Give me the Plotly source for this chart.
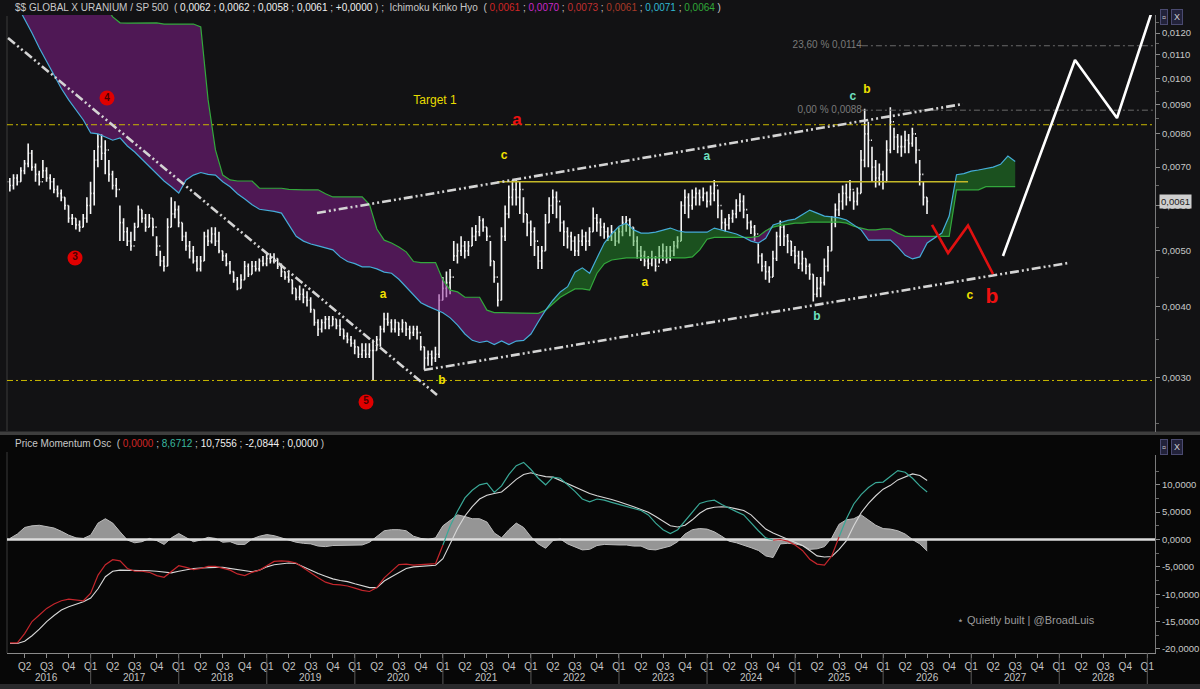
import numpy as np
import plotly.graph_objects as go

W, H = 1200, 689

# ---------------- DATA ----------------
# Semi-monthly OHLC bars of GLOBAL X URANIUM / S&P 500, values in units of 1e-4
bar_start = 2016.04
bar_step = 1 / 24
close_e4 = [
    66, 65, 67, 66, 69, 71, 74, 70, 68, 66, 69, 67,
    66, 64, 63, 62, 60, 57, 57, 55.5, 55, 57, 60, 63,
    72, 76, 74, 75, 68, 65, 64, 56, 54, 52, 51, 55,
    59, 57, 55, 57, 55, 51, 48, 47, 55, 58, 59, 56,
    53, 51, 50, 48, 46.5, 48, 53, 52, 53.5, 52, 50, 49,
    47.5, 46, 44.5, 43, 44.5, 47, 45.5, 47, 46.5, 48, 47.5, 48.5,
    48, 48.5, 47, 46, 45, 44.5, 43, 41.5, 42, 41.5, 41, 39.5,
    37.5, 36.5, 37.5, 38, 37, 38, 37, 36.5, 35.5, 35, 34.5, 34,
    33, 33.5, 33, 33.5, 33.5, 35, 36.5, 38, 37.5, 36.5, 37.5, 36.5,
    37.5, 36.5, 36, 36.5, 36, 34, 32.5, 33, 32.5, 33, 41, 43,
    44, 45, 49, 50, 51, 50, 51, 53, 54, 56.5, 55, 53,
    48, 45, 41, 53, 58, 62, 64, 62, 64, 58, 56, 54,
    52, 48, 50, 56, 60, 62, 61, 56, 54, 53, 52, 50,
    52, 53, 52, 54, 57, 56, 55, 54, 53, 54, 52, 54,
    56, 56.5, 55, 52, 50, 49, 48, 47.5, 48.5, 47, 49, 50,
    48.5, 50, 51, 52, 60, 62, 60, 62, 63, 62, 63, 61,
    63, 65, 60, 56, 55.5, 57, 58, 60, 61, 59, 56, 55,
    53.5, 49, 47, 46, 45, 48.5, 53, 55, 53, 52, 50, 49,
    47.5, 48.5, 47, 45.5, 42, 43, 44, 47, 50, 56, 59, 61,
    63, 62, 64, 61, 63, 72, 80, 78, 70, 67, 68, 66,
    75, 84, 79, 76, 76, 78, 77, 80, 75, 68, 62, 61,
]
high_e4 = [
    68, 67, 68, 68, 70, 72, 77, 75, 71, 69, 72, 70,
    68, 67, 65, 64, 62, 60, 58, 57, 56.5, 58, 62, 66,
    75, 80, 80, 78, 72, 69, 67, 60, 57, 55, 54, 56,
    60, 59, 58, 58, 57, 53, 50, 49, 57, 62, 61, 60,
    56, 54, 52, 51, 49, 49, 54, 54.5, 55, 55, 54, 50,
    49.5, 48, 46, 45, 45.5, 48, 47.5, 48, 48, 48.5, 49, 49.5,
    49.5, 49.5, 48.5, 47.5, 46, 46, 44.5, 43, 43.5, 43, 42.5, 41.5,
    39.5, 38, 38, 38.5, 38.5, 38.5, 38, 38, 36.5, 36, 35.5, 35,
    34, 34.5, 34.5, 34.5, 35, 35.5, 37, 39, 39, 38, 38, 37.5,
    38, 37.5, 37, 37, 37, 35.5, 34, 33.5, 33.5, 34, 42, 45,
    46, 46.5, 52, 51.5, 53, 52, 52, 55, 55.5, 57.5, 57, 55,
    52, 48, 44, 55, 60, 65, 66.5, 66.5, 66, 62, 58, 56.5,
    55, 51, 51, 58, 62, 64, 63.5, 60, 56.5, 55, 54, 53,
    53.5, 54.5, 54, 55, 59.5, 58, 57, 56, 55, 55.5, 54, 55,
    57.5, 57.5, 57, 55, 53, 51, 50, 49, 50, 49, 51, 51.5,
    51, 51, 52, 53, 61, 64, 63, 64, 64.5, 64, 64.5, 63.5,
    65, 66.5, 64, 59, 57, 58, 59, 61.5, 63, 62.5, 58, 56.5,
    55.5, 51.5, 49.5, 48, 47, 50, 54, 56.5, 55.5, 53.5, 52, 51,
    50, 50, 48.5, 47.5, 45.5, 45, 45, 48.5, 51, 57.5, 60.5, 63,
    65, 65.5, 66.5, 63.5, 64.5, 75, 88.5, 84, 76, 72, 71, 69,
    78, 89, 82, 80, 79.5, 81, 80, 82, 79, 72, 66, 62,
]
low_e4 = [
    64, 63.5, 64, 65, 66, 68, 70, 69, 66, 65, 67, 66,
    64, 63, 62, 61, 59, 56, 55.5, 54.5, 54, 55, 56, 58,
    60, 70, 72, 68, 66, 64, 62, 52, 52, 51, 50, 52,
    55, 56, 54, 55, 53, 49, 47, 46, 47, 55, 57, 55,
    52, 50, 48.5, 47.5, 46, 46, 48, 51, 51.5, 51, 49.5, 48,
    47, 45.5, 44, 42.7, 43, 44.5, 45, 45.5, 46, 46, 47, 47,
    47.5, 47.5, 46.5, 45, 44.5, 44, 42, 41, 41, 40.5, 40, 39,
    37, 35.5, 36, 36.5, 36.5, 37, 36.5, 35.5, 35, 34.5, 34, 33,
    32.5, 32.5, 32.5, 32.5, 29.7, 33.5, 34, 36, 37, 36, 36, 35.5,
    36, 35.5, 35, 35.5, 35, 33.5, 31, 31.5, 31.5, 32, 32.5, 41,
    41.5, 42, 48, 47.5, 49, 48.5, 49, 51, 52, 53, 54, 52,
    47, 44, 40, 41, 52, 57, 60, 60, 58, 56, 53, 51,
    49, 46.5, 46.5, 50, 56, 58, 57, 54, 51, 50.5, 50, 49,
    49, 51, 50, 51, 54, 54, 53, 52.5, 52, 52, 51, 51.5,
    53, 54, 53, 51, 48.5, 48, 47, 46.5, 47, 46, 47.5, 48,
    47.5, 48, 49, 50.5, 52, 58, 57, 59, 60, 60, 61, 59.5,
    60, 61, 57, 54.5, 54, 54.5, 56, 57, 58.5, 57, 54.5, 53.5,
    52, 47.5, 46, 44.5, 44, 45, 48, 51, 51, 49.5, 49, 47.5,
    46.5, 46, 45.5, 44.5, 40.8, 41.5, 41.5, 43.5, 46, 50, 55, 57.5,
    59, 60, 61, 59, 60, 63, 70, 70, 66, 64.5, 65, 64,
    66, 74, 75, 74, 73, 74, 74, 76, 71, 65, 60, 58,
]

# Ichimoku cloud spans (monthly, already shifted forward), units of 1e-4
cloud_start = 2016.0
cloud_step = 1 / 12
span_a_e4 = [
    150, 140, 134, 127, 120, 113, 107, 101, 96, 91.7,
    88, 84.6, 80.3, 80, 79, 78, 78.7, 76.2, 74.4, 72.3,
    70.2, 68, 66.2, 64.7, 63.1, 66.5, 67.8, 68.5, 68, 67.8,
    66, 64.7, 62.9, 61.6, 60.2, 59.1, 58.9, 58.6, 58.2, 55.6,
    53, 52, 51.4, 51, 50.6, 50.2, 48.8, 47.9, 47.5, 46.9,
    46.9, 46.5, 45.9, 45.7, 44.6, 43.2, 41.8, 40.6, 40, 39.5,
    39.0, 38.2, 37.1, 35.8, 34.9, 34.6, 34.8, 34.3, 34.8, 34.3,
    34.8, 34.9, 35.8, 37.6, 39.4, 41, 42.4, 43.3, 45.9, 46.7,
    45.7, 48.6, 51.6, 53.5, 55.2, 55.9, 54.4, 53.7, 53.7, 53.9,
    54.4, 54.8, 54.2, 53.9, 53.9, 53.9, 53.9, 54.8, 54.4, 53.9,
    53.5, 52.8, 52, 51.6, 52.6, 55.5, 56, 56.5, 56.8, 57.9,
    58.9, 58.2, 57.5, 57.3, 57.1, 56.6, 55.4, 54.4, 52.2, 52.2,
    52.2, 52.2, 50.8, 49.1, 48.4, 48.8, 51.6, 52.6, 53.7, 57.5,
    67.9, 68.2, 68.9, 69.2, 69.7, 70, 70.8, 73.2, 71.6,
]
span_b_e4 = [
    145, 145, 142, 142, 140, 140, 138, 138, 138, 136,
    136, 135, 135, 134, 134, 128, 125, 124.9, 125, 125,
    125, 125, 124.4, 124.4, 124.4, 124.4, 124.4, 123, 91.7, 75,
    67.8, 66.5, 66.2, 66.2, 66.2, 64.3, 64.3, 64.3, 64.3, 64,
    63.9, 63.9, 63.9, 63.9, 62.9, 62.1, 62.1, 62.1, 62.1, 62.1,
    60.2, 54.6, 52.2, 51.6, 50.8, 49.8, 47.9, 47.7, 47.7, 47.7,
    44.5, 42.7, 42.4, 41.5, 41.5, 41.5, 39.4, 39.0, 39.0, 39.0,
    39.0, 39.0, 39.0, 38.9, 39.4, 40.5, 41.5, 42.2, 42.9, 42.9,
    42.7, 45.7, 47.5, 48.2, 48.4, 48.6, 48.6, 48.6, 48.6, 48.6,
    48.6, 48.6, 48.6, 48.6, 48.8, 50.2, 52.4, 52.8, 52.8, 52.8,
    52.8, 52.8, 52.8, 53, 54.2, 55.0, 55.4, 55.6, 55.9, 55.9,
    56.1, 56.1, 56.1, 56.1, 56.1, 55.9, 55.2, 54.8, 54.4, 54.4,
    54.6, 54.6, 53.7, 53, 53, 53, 53, 53, 53, 53,
    63.9, 63.9, 63.9, 63.9, 64.7, 64.7, 64.7, 64.7, 64.7,
]

# Price Momentum Oscillator (monthly)
osc_start = 2016.0 + 1 / 12
osc_step = 1 / 12
pmo = [
    -18.9, -18.9, -17.2, -15.0, -13.8, -12.6, -11.8, -11.2, -10.9, -11.0,
    -11.2, -9.8, -6.5, -4.6, -3.7, -3.9, -5.3, -5.8, -5.8, -6.0,
    -6.6, -6.9, -5.8, -4.8, -5.1, -5.5, -5.3, -4.9, -4.9, -5.2,
    -5.6, -6.3, -6.6, -6.0, -5.6, -4.8, -4.0, -3.9, -4.0, -4.3,
    -5.2, -6.2, -7.0, -7.8, -8.2, -8.3, -8.5, -8.9, -9.3, -9.5,
    -8.8, -7.0, -5.8, -4.6, -4.5, -4.7, -4.6, -4.5, -4.4, -1.0,
    2.5, 5.2, 7.6, 9.0, 10.0, 10.3, 8.6, 9.8, 11.9, 13.5,
    14.1, 12.8, 11.2, 10.0, 11.4, 11.2, 10.0, 8.8, 7.4, 6.9,
    7.4, 7.2, 6.8, 6.4, 6.0, 5.6, 5.3, 4.5, 3.0, 1.8,
    1.1, 1.8, 3.4, 5.2, 6.6, 7.0, 7.2, 6.4, 5.7, 5.1,
    4.5, 3.0, 1.6, 0.3, -0.1, 0.0, -0.3, -1.0, -2.0, -3.6,
    -4.5, -4.7, -3.0, 0.5, 3.8, 6.5, 8.2, 9.5, 10.4, 10.5,
    11.5, 12.6, 12.3, 11.2, 9.8, 8.7,
]
pmo_signal = [
    -19.0, -19.0, -18.6, -17.6, -16.4, -15.0, -13.9, -12.9, -12.3, -11.8,
    -11.4, -10.7, -9.0, -6.8, -5.8, -5.6, -5.6, -5.6, -5.7, -5.7,
    -5.8, -6.0, -6.1, -5.8, -5.5, -5.3, -5.2, -5.1, -5.1, -5.1,
    -5.3, -5.6, -5.8, -5.9, -5.6, -5.0, -4.6, -4.4, -4.3, -4.4,
    -5.0, -5.7, -6.2, -6.7, -7.2, -7.5, -7.7, -8.1, -8.5, -8.8,
    -8.8, -7.6, -6.8, -6.0, -5.3, -5.0, -4.9, -4.8, -4.7, -3.5,
    -0.7, 2.0, 4.3, 6.0, 7.4, 8.1, 8.4, 8.7, 9.8, 11.0,
    11.9, 12.2, 11.8, 11.5, 11.4, 10.8, 10.2, 9.6, 8.9, 8.4,
    8.0, 7.7, 7.3, 6.9, 6.5, 6.0, 5.5, 5.0, 4.2, 3.3,
    2.5, 2.3, 2.6, 3.6, 4.8, 5.6, 5.9, 6.0, 5.9, 5.6,
    5.3, 4.5, 3.2, 1.9, 1.2, 0.6, 0.1, -0.5, -1.1, -2.0,
    -3.0, -3.2, -3.1, -1.8, -0.2, 2.5, 4.9, 6.6, 8.0, 9.2,
    9.9, 10.9, 11.5, 12.0, 11.7, 10.8,
]
pmo_hist = [
    0.2, 1.0, 2.2, 2.5, 2.6, 2.4, 2.1, 1.5, 0.8, 0.3,
    0.2, 0.8, 3.0, 3.8, 3.0, 1.4, -0.1, -0.6, -0.4, 0.2,
    -0.2, -0.9, 0.3, 1.1, 0.4, -0.4, -0.1, 0.4, 0.2, -0.5,
    -0.4, -0.9, -0.9, 0.1, 0.6, 0.9, 0.7, 0.3, -0.2, -0.5,
    -0.7, -0.8, -1.2, -1.3, -1.1, -1.1, -1.1, -1.0, -1.0, -0.5,
    0.5, 1.6, 1.8, 1.8, 1.6, 0.6, 0.2, 0.0, 0.3, 2.5,
    3.5, 4.5, 4.2, 3.8, 3.8, 3.2, 1.2, 0.3, 1.8, 3.0,
    2.2, 0.5, -0.8, -1.6, -0.2, 0.1, -0.8, -1.3, -1.9, -1.8,
    -1.1, -0.9, -1.0, -1.0, -1.0, -1.2, -1.2, -1.8, -1.9, -1.5,
    -1.2, -0.4, 1.0, 1.8, 2.0, 1.9, 1.4, 0.6, -0.3, -0.6,
    -1.0, -1.5, -2.0, -3.0, -3.3, -0.8, -0.7, -0.8, -1.1, -1.8,
    -1.7, -1.3, 0.3, 2.8, 3.6, 3.8, 4.5, 3.5, 2.6, 2.0,
    1.9, 1.6, 1.0, 0.0, -0.8, -2.1,
]

# drawn analysis lines (time in decimal years, price values)
trend_down_t = [2016.061, 2020.933]
trend_down_v = [0.01176, 0.002802]
channel_up_t = [2019.570, 2026.906]
channel_up_v = [0.005822, 0.009020]
channel_lo_t = [2020.786, 2028.100]
channel_lo_v = [0.003097, 0.004762]
proj_red_t = [2026.555, 2026.737, 2026.964, 2027.248]
proj_red_v = [0.005549, 0.004957, 0.005536, 0.004556]
proj_white_t = [2027.361, 2028.179, 2028.656, 2029.060]
proj_white_v = [0.004899, 0.010768, 0.008527, 0.0132]
yellow_levels = [0.0083, 0.00297]
target_level = 0.0066
target_t = [2021.616, 2026.964]
fib_levels = [0.0114, 0.0088]
fib_labels = ["23,60 % 0,0114", "0,00 % 0,0088"]
fib_start = 2025.759

wave_text = ["Target 1", "<b>a</b>", "<b>c</b>", "<b>a</b>", "<b>b</b>", "<b>a</b>",
             "<b>a</b>", "<b>b</b>", "<b>c</b>", "<b>b</b>", "<b>c</b>", "<b>b</b>"]
wave_t = [2020.910, 2021.841, 2021.694, 2020.320, 2020.990, 2023.294,
          2023.998, 2025.247, 2025.656, 2025.815, 2026.985, 2027.235]
wave_v = [0.00913, 0.00843, 0.00732, 0.004187, 0.002964, 0.004394,
          0.00729, 0.003834, 0.009279, 0.009543, 0.00417, 0.00414]
wave_color = ["#e8dc00", "#ee1111", "#f0e000", "#f0e000", "#f0e000", "#f0e000",
              "#6fe0c0", "#6fe0c0", "#6fe0c0", "#f0e000", "#f0e000", "#ee1111"]
wave_size = [12, 17, 12, 12, 12, 12, 12, 12, 12, 12, 12, 21]

circle_text = ["4", "3", "5"]
circle_t = [2017.185, 2016.822, 2020.127]
circle_v = [0.00924, 0.00486, 0.002724]

price_ticks = [0.003, 0.004, 0.005, 0.006, 0.007, 0.008, 0.009, 0.010, 0.011, 0.012]
price_ticktext = ["0,0030", "0,0040", "0,0050", "0,0060", "0,0070", "0,0080",
                  "0,0090", "0,0100", "0,0110", "0,0120"]
osc_ticks = [-20, -15, -10, -5, 0, 5, 10]
osc_ticktext = ["-20,0000", "-15,0000", "-10,0000", "-5,0000", "0,0000", "5,0000", "10,0000"]
years = list(range(2016, 2029))
quarter_names = ["Q1", "Q2", "Q3", "Q4"]

# ---------------- FIGURE ----------------
X0, X1 = 2016.0494, 2029.0876
FONT = "Liberation Sans, Arial, sans-serif"


def P(y):
    return 1 - y / H


fig = go.Figure()

# price bars
n = min(len(close_e4), len(high_e4), len(low_e4))
t_bar = bar_start + bar_step * np.arange(n)
c = np.array(close_e4[:n]) * 1e-4
hi = np.array(high_e4[:n]) * 1e-4
lo = np.array(low_e4[:n]) * 1e-4
op = np.concatenate([[c[0]], c[:-1]])
fig.add_trace(go.Ohlc(
    x=t_bar, open=op, high=hi, low=lo, close=c,
    increasing=dict(line=dict(color="#f6f6f6", width=1.6)),
    decreasing=dict(line=dict(color="#f6f6f6", width=1.6)),
    tickwidth=0.3, xaxis="x", yaxis="y", showlegend=False, hoverinfo="skip"))

# Ichimoku cloud
m = min(len(span_a_e4), len(span_b_e4))
t_cl = cloud_start + cloud_step * np.arange(m)
A = np.array(span_a_e4[:m]) * 1e-4
B = np.array(span_b_e4[:m]) * 1e-4
up = np.maximum(A, B)
for base, col in ((B, "rgba(40,160,45,0.45)"), (A, "rgba(140,30,150,0.5)")):
    fig.add_trace(go.Scatter(x=t_cl, y=base, mode="lines", line=dict(width=0),
                             hoverinfo="skip", showlegend=False, xaxis="x", yaxis="y"))
    fig.add_trace(go.Scatter(x=t_cl, y=up, mode="lines", line=dict(width=0), fill="tonexty",
                             fillcolor=col, hoverinfo="skip", showlegend=False,
                             xaxis="x", yaxis="y"))
fig.add_trace(go.Scatter(x=t_cl, y=B, mode="lines", line=dict(color="#33a83c", width=1.2),
                         hoverinfo="skip", showlegend=False, xaxis="x", yaxis="y"))
fig.add_trace(go.Scatter(x=t_cl, y=A, mode="lines", line=dict(color="#45acd8", width=1.2),
                         hoverinfo="skip", showlegend=False, xaxis="x", yaxis="y"))

# horizontal levels
for lv in yellow_levels:
    fig.add_trace(go.Scatter(x=[X0, X1], y=[lv, lv], mode="lines",
                             line=dict(color="#c8b800", width=1, dash="6px,3px,2px,3px"),
                             hoverinfo="skip", showlegend=False, xaxis="x", yaxis="y"))
fig.add_trace(go.Scatter(x=target_t, y=[target_level, target_level], mode="lines",
                         line=dict(color="#c4b828", width=1.3),
                         hoverinfo="skip", showlegend=False, xaxis="x", yaxis="y"))
for lv, lab in zip(fib_levels, fib_labels):
    fig.add_trace(go.Scatter(x=[fib_start, X1], y=[lv, lv], mode="lines",
                             line=dict(color="#6a6a6a", width=1, dash="6px,3px,2px,3px"),
                             hoverinfo="skip", showlegend=False, xaxis="x", yaxis="y"))
    fig.add_trace(go.Scatter(x=[fib_start], y=[lv], mode="text", text=[lab],
                             textposition="middle left",
                             textfont=dict(color="#7a7a7a", size=10, family=FONT),
                             hoverinfo="skip", showlegend=False, xaxis="x", yaxis="y"))

# trend lines
dd = "9px,3px,2px,3px,2px,3px"
for tt, vv in ((trend_down_t, trend_down_v), (channel_up_t, channel_up_v),
               (channel_lo_t, channel_lo_v)):
    fig.add_trace(go.Scatter(x=tt, y=vv, mode="lines",
                             line=dict(color="#d4d4d4", width=2.6, dash=dd),
                             hoverinfo="skip", showlegend=False, xaxis="x", yaxis="y"))

# projections
fig.add_trace(go.Scatter(x=proj_red_t, y=proj_red_v, mode="lines",
                         line=dict(color="#e01010", width=2.6),
                         hoverinfo="skip", showlegend=False, xaxis="x", yaxis="y"))
fig.add_trace(go.Scatter(x=proj_white_t, y=proj_white_v, mode="lines",
                         line=dict(color="#ffffff", width=2.6),
                         hoverinfo="skip", showlegend=False, xaxis="x", yaxis="y"))

# wave labels
for tx, tt, vv, col, sz in zip(wave_text, wave_t, wave_v, wave_color, wave_size):
    fig.add_trace(go.Scatter(x=[tt], y=[vv], mode="text", text=[tx],
                             textposition="middle center",
                             textfont=dict(color=col, size=sz, family=FONT),
                             hoverinfo="skip", showlegend=False, xaxis="x", yaxis="y"))
fig.add_trace(go.Scatter(x=circle_t, y=circle_v, mode="markers+text",
                         text=["<b>%s</b>" % s for s in circle_text],
                         textposition="middle center",
                         marker=dict(size=15, color="#e00000", line=dict(width=0)),
                         textfont=dict(color="#4a0000", size=10, family=FONT),
                         hoverinfo="skip", showlegend=False, xaxis="x", yaxis="y"))

# ---- oscillator ----
k = min(len(pmo), len(pmo_signal), len(pmo_hist))
t_os = osc_start + osc_step * np.arange(k)
fig.add_trace(go.Scatter(x=t_os, y=pmo_hist[:k], mode="lines", fill="tozeroy",
                         fillcolor="rgba(165,165,165,0.9)",
                         line=dict(color="#bcbcbc", width=1),
                         hoverinfo="skip", showlegend=False, xaxis="x2", yaxis="y2"))
fig.add_trace(go.Scatter(x=[X0, X1], y=[0, 0], mode="lines",
                         line=dict(color="#dcdcdc", width=2.5),
                         hoverinfo="skip", showlegend=False, xaxis="x2", yaxis="y2"))
fig.add_trace(go.Scatter(x=t_os, y=pmo_signal[:k], mode="lines",
                         line=dict(color="#d8d8d8", width=1.1),
                         hoverinfo="skip", showlegend=False, xaxis="x2", yaxis="y2"))
red_y = [None] * k
teal_y = [None] * k
for j in range(k - 1):
    a, b = pmo[j], pmo[j + 1]
    tgt = red_y if (a + b) / 2 < 0 else teal_y
    tgt[j] = a
    tgt[j + 1] = b
fig.add_trace(go.Scatter(x=t_os, y=red_y, mode="lines", connectgaps=False,
                         line=dict(color="#c4262c", width=1.2),
                         hoverinfo="skip", showlegend=False, xaxis="x2", yaxis="y2"))
fig.add_trace(go.Scatter(x=t_os, y=teal_y, mode="lines", connectgaps=False,
                         line=dict(color="#3aa897", width=1.2),
                         hoverinfo="skip", showlegend=False, xaxis="x2", yaxis="y2"))

# ---- axes ----
qvals, qtext = [], []
for yr in years + [2029]:
    for qi, qn in enumerate(quarter_names):
        v = yr + qi * 0.25
        if X0 < v <= X1:
            qvals.append(v)
            qtext.append(qn)

xdom = [7 / W, 1155 / W]
fig.update_layout(
    width=W, height=H, autosize=False,
    margin=dict(l=0, r=0, t=0, b=0),
    paper_bgcolor="#121214", plot_bgcolor="rgba(0,0,0,0)",
    font=dict(family=FONT, color="#c8c8c8", size=10),
    showlegend=False, hovermode=False,
    xaxis=dict(domain=xdom, range=[X0, X1], anchor="y", showgrid=False, zeroline=False,
               showticklabels=False, ticks="", showline=False,
               rangeslider=dict(visible=False), fixedrange=True),
    yaxis=dict(domain=[P(432), P(15)], type="log", range=[-2.61716, -1.88941],
               anchor="x", side="right", showgrid=False, zeroline=False,
               tickvals=price_ticks, ticktext=price_ticktext, ticks="outside",
               ticklen=4, tickcolor="#8a8a8a", showline=True, linecolor="#7a7a7a",
               tickfont=dict(size=9.5, color="#c8c8c8"),
               minor=dict(tickvals=[0.0025, 0.0035, 0.0045, 0.0055, 0.0065, 0.0075,
                                    0.0085, 0.0095, 0.0105, 0.0115, 0.0125],
                          ticklen=3, tickcolor="#666666", ticks="outside"),
               fixedrange=True),
    xaxis2=dict(domain=xdom, range=[X0, X1], anchor="y2", showgrid=False, zeroline=False,
                tickvals=qvals, ticktext=qtext, ticks="outside", ticklen=4,
                tickcolor="#8a8a8a", showline=True, linecolor="#8a8a8a",
                tickfont=dict(size=10, color="#c4c4c4"), fixedrange=True),
    yaxis2=dict(domain=[P(653), P(455)], range=[-20.75, 15.45], anchor="x2", side="right",
                showgrid=False, zeroline=False, tickvals=osc_ticks, ticktext=osc_ticktext,
                ticks="outside", ticklen=4, tickcolor="#8a8a8a", showline=True,
                linecolor="#7a7a7a", tickfont=dict(size=9.5, color="#c8c8c8"),
                minor=dict(tickvals=[-17.5, -12.5, -7.5, -2.5, 2.5, 7.5, 12.5],
                           ticklen=3, tickcolor="#666666", ticks="outside"),
                fixedrange=True),
)

shapes = [
    dict(type="rect", xref="paper", yref="paper", x0=0, x1=1, y0=P(684), y1=P(435),
         fillcolor="#070707", line=dict(width=0), layer="below"),
    dict(type="rect", xref="paper", yref="paper", x0=0, x1=1, y0=P(435), y1=P(431.5),
         fillcolor="#3e3e3e", line=dict(width=0), layer="below"),
    dict(type="rect", xref="paper", yref="paper", x0=0, x1=1, y0=0, y1=P(684),
         fillcolor="#2a2a2c", line=dict(width=0), layer="below"),
    dict(type="line", xref="paper", yref="paper", x0=7 / W, x1=7 / W, y0=P(431), y1=P(16),
         line=dict(color="#3a3a3a", width=1), layer="below"),
    dict(type="line", xref="paper", yref="paper", x0=7 / W, x1=7 / W, y0=P(653), y1=P(452),
         line=dict(color="#3a3a3a", width=1), layer="below"),
]
for yr in years[1:] + [2029]:
    shapes.append(dict(type="line", xref="x2", yref="paper", x0=yr, x1=yr,
                       y0=P(684), y1=P(653), line=dict(color="#5a5a5a", width=1)))
fig.update_layout(shapes=shapes)

ann = []
for yr in years:
    ann.append(dict(x=yr + 0.5, y=P(677), xref="x2", yref="paper", text=str(yr),
                    showarrow=False, font=dict(size=10, color="#c4c4c4"),
                    xanchor="center", yanchor="middle"))

W_ = "#f0f0f0"
hdr = ('<span style="color:#c8c8c8">$$ GLOBAL X URANIUM / SP 500  ( </span>'
       '<span style="color:%s">0,0062</span> ; <span style="color:%s">0,0062</span> ; '
       '<span style="color:%s">0,0058</span> ; <span style="color:%s">0,0061</span> ; '
       '<span style="color:%s">+0,0000</span> ) ;  '
       '<span style="color:#c8c8c8">Ichimoku Kinko Hyo  ( </span>'
       '<span style="color:#d02525">0,0061</span> ; '
       '<span style="color:#c828c8">0,0070</span> ; '
       '<span style="color:#c03030">0,0073</span> ; '
       '<span style="color:#a83a28">0,0061</span> ; '
       '<span style="color:#30b8d0">0,0071</span> ; '
       '<span style="color:#30a838">0,0064</span> )') % (W_, W_, W_, W_, W_)
ann.append(dict(x=13 / W, y=P(8), xref="paper", yref="paper", text=hdr, showarrow=False,
                xanchor="left", yanchor="middle", font=dict(size=10, color="#c8c8c8")))
osc_hdr = ('Price Momentum Osc  ( <span style="color:#d02525">0,0000</span> ; '
           '<span style="color:#3ab8a0">8,6712</span> ; '
           '<span style="color:#f0f0f0">10,7556</span> ; '
           '<span style="color:#f0f0f0">-2,0844</span> ; '
           '<span style="color:#f0f0f0">0,0000</span> )')
ann.append(dict(x=13 / W, y=P(443), xref="paper", yref="paper", text=osc_hdr,
                showarrow=False, xanchor="left", yanchor="middle",
                font=dict(size=10, color="#c8c8c8")))
ann.append(dict(x=1159 / W, y=np.log10(c[-1]), xref="paper", yref="y", text="0,0061",
                showarrow=False, xanchor="left", yanchor="middle", bgcolor="#cfcfcf",
                font=dict(size=9.5, color="#222222"), borderpad=1))
for yb in (9, 447):
    ann.append(dict(x=1168 / W, y=P(yb), xref="paper", yref="paper", text="▫",
                    showarrow=False, font=dict(size=11, color="#d0d0d0"),
                    bgcolor="#22223a", bordercolor="#4a4a70", borderwidth=1, borderpad=1))
    ann.append(dict(x=1183 / W, y=P(yb), xref="paper", yref="paper", text="X",
                    showarrow=False, font=dict(size=9, color="#d0d0d0"),
                    bgcolor="#22223a", bordercolor="#4a4a70", borderwidth=1, borderpad=2))
ann.append(dict(x=955 / W, y=P(620), xref="paper", yref="paper",
                text="⋆ Quietly built | @BroadLuis", showarrow=False, xanchor="left",
                yanchor="middle", font=dict(size=11, color="#9a9a9a")))
fig.update_layout(annotations=ann)

fig.write_html(
    "out.html",
    config={"displayModeBar": False, "staticPlot": False},
    post_script="document.body.style.margin='0px';document.body.style.padding='0px';"
                "document.body.style.overflow='hidden';document.body.style.background='#121214';")
